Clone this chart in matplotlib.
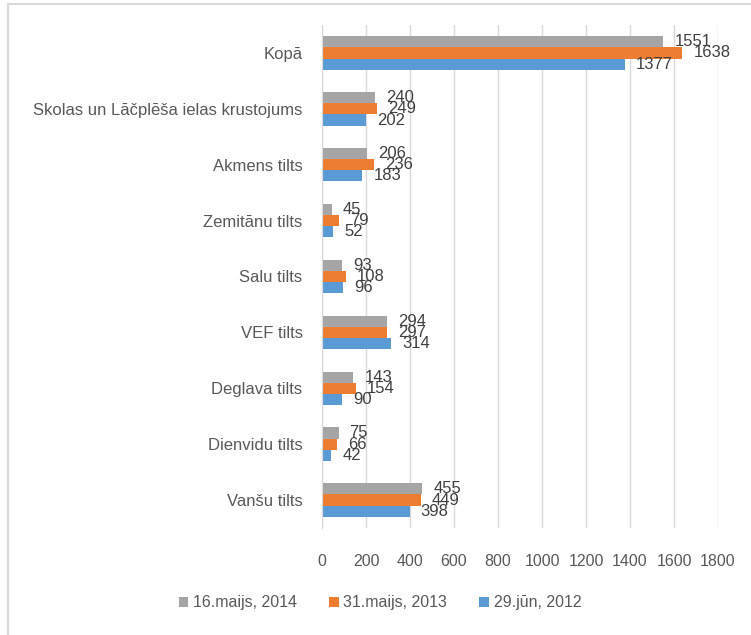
import matplotlib
matplotlib.use("Agg")
import numpy as np
import matplotlib.pyplot as plt
from matplotlib.patches import Rectangle

categories = ["Kopā", "Skolas un Lāčplēša ielas krustojums", "Akmens tilts", "Zemitānu tilts",
              "Salu tilts", "VEF tilts", "Deglava tilts", "Dienvidu tilts", "Vanšu tilts"]
y2014 = [1551, 240, 206, 45, 93, 294, 143, 75, 455]
y2013 = [1638, 249, 236, 79, 108, 297, 154, 66, 449]
y2012 = [1377, 202, 183, 52, 96, 314, 90, 42, 398]
series = [("16.maijs, 2014", y2014, "#A5A5A5"),
          ("31.maijs, 2013", y2013, "#ED7D31"),
          ("29.jūn, 2012", y2012, "#5B9BD5")]

TXT, GRID = "#595959", "#D9D9D9"
plt.rcParams["font.family"] = ["Liberation Sans", "DejaVu Sans"]

W, H = 751, 635
fig = plt.figure(figsize=(W / 100, H / 100), dpi=100)
ax = fig.add_axes([322 / W, 1 - 528 / H, (718 - 322) / W, (528 - 25) / H])

n = len(categories)
pos = np.arange(n)
bh = 0.2
for k, (name, vals, col) in enumerate(series):
    yy = pos + (k - 1) * bh
    ax.barh(yy, vals, height=bh, color=col, label=name)
    for y, v in zip(yy, vals):
        ax.annotate(str(v), (v, y), xytext=(8, 0), textcoords="offset points",
                    va="center", ha="left", fontsize=12, color="#404040")

ax.set_ylim(n - 0.5, -0.5)
ax.set_xlim(0, 1800)
ax.set_xticks(np.arange(0, 1801, 200))
ax.set_yticks(pos)
ax.set_yticklabels(categories)
ax.tick_params(axis="y", length=0, pad=14, labelsize=12, labelcolor=TXT)
ax.tick_params(axis="x", length=0, pad=19, labelsize=11.5, labelcolor=TXT)
for s in ("top", "right", "bottom"):
    ax.spines[s].set_visible(False)
ax.spines["left"].set_color(GRID)
ax.grid(axis="x", color=GRID, lw=1)
ax.set_axisbelow(True)

ax.legend(loc="center", bbox_to_anchor=(380 / W, 1 - 603 / H), bbox_transform=fig.transFigure,
          ncol=3, frameon=False, fontsize=11.5, labelcolor=TXT, handlelength=0.6, handleheight=0.6,
          handletextpad=0.3, columnspacing=2.0)

fig.patches.append(Rectangle((8 / W, -0.1), 1.2, 1 - 4 / H + 0.1, transform=fig.transFigure,
                             fill=False, ec="#D9D9D9", lw=1.5))

fig.savefig("out.png", dpi=100)
